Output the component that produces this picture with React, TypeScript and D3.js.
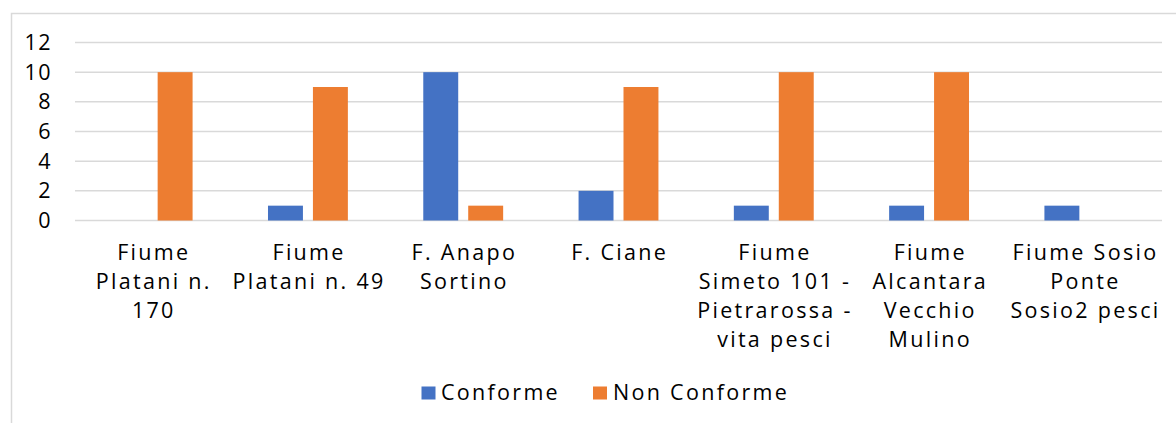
import React from "react";
import * as d3 from "d3";

const categories = [
  ["Fiume", "Platani n.", "170"],
  ["Fiume", "Platani n. 49"],
  ["F. Anapo", "Sortino"],
  ["F. Ciane"],
  ["Fiume", "Simeto 101 -", "Pietrarossa -", "vita pesci"],
  ["Fiume", "Alcantara", "Vecchio", "Mulino"],
  ["Fiume Sosio", "Ponte", "Sosio2 pesci"],
];
const conforme = [0, 1, 10, 2, 1, 1, 1];
const nonConforme = [10, 9, 1, 9, 10, 10, 0];
const seriesNames = ["Conforme", "Non Conforme"];
const seriesColors = ["#4472C4", "#ED7D31"];
const yTicks = [0, 2, 4, 6, 8, 10, 12];

export default function App() {
  const W = 1176;
  const H = 423;
  const font = "'Open Sans', sans-serif";
  const ls = 2.3;

  const x = d3
    .scaleBand<number>()
    .domain(d3.range(categories.length))
    .range([75, 1162]);
  const y = d3.scaleLinear().domain([0, 12]).range([220.5, 42.5]);

  const bw = x.bandwidth() * 0.225;
  const gap = 10;
  const series = [conforme, nonConforme];

  return (
    <svg
      width={W}
      height={H}
      style={{ position: "absolute", left: 0, top: 0, display: "block" }}
      fontFamily={font}
    >
      <rect x={0} y={0} width={W} height={H} fill="#fff" />
      <rect
        x={11.5}
        y={13.5}
        width={W + 20}
        height={H + 20}
        fill="none"
        stroke="#D9D9D9"
        strokeWidth={1.5}
      />
      {yTicks.map((t) => (
        <g key={t}>
          <line
            x1={75}
            x2={1162}
            y1={y(t)}
            y2={y(t)}
            stroke="#D9D9D9"
            strokeWidth={1.5}
          />
          <text
            x={52}
            y={y(t)}
            dy="0.35em"
            textAnchor="end"
            fontSize={21.5}
            letterSpacing={1.5}
            fill="#000"
          >
            {t}
          </text>
        </g>
      ))}
      {series.map((vals, si) =>
        vals.map((v, i) => {
          const cx = (x(i) as number) + x.bandwidth() / 2;
          const bx = si === 0 ? cx - gap / 2 - bw : cx + gap / 2;
          if (v === 0) return null;
          return (
            <rect
              key={`${si}-${i}`}
              x={bx}
              y={y(v)}
              width={bw}
              height={y(0) - y(v)}
              fill={seriesColors[si]}
            />
          );
        })
      )}
      {categories.map((lines, i) => {
        const cx = (x(i) as number) + x.bandwidth() / 2 + ls / 2;
        return (
          <text
            key={i}
            x={cx}
            y={260}
            textAnchor="middle"
            fontSize={21.5}
            letterSpacing={ls}
            fill="#000"
          >
            {lines.map((l, j) => (
              <tspan key={j} x={cx} y={260 + j * 29}>
                {l}
              </tspan>
            ))}
          </text>
        );
      })}
      <g>
        <rect x={421.5} y={386.5} width={14} height={13} fill={seriesColors[0]} />
        <text x={441} y={400} fontSize={21.5} letterSpacing={ls} fill="#000">
          {seriesNames[0]}
        </text>
        <rect x={593} y={386.5} width={14} height={13} fill={seriesColors[1]} />
        <text x={613} y={400} fontSize={21.5} letterSpacing={ls} fill="#000">
          {seriesNames[1]}
        </text>
      </g>
    </svg>
  );
}
